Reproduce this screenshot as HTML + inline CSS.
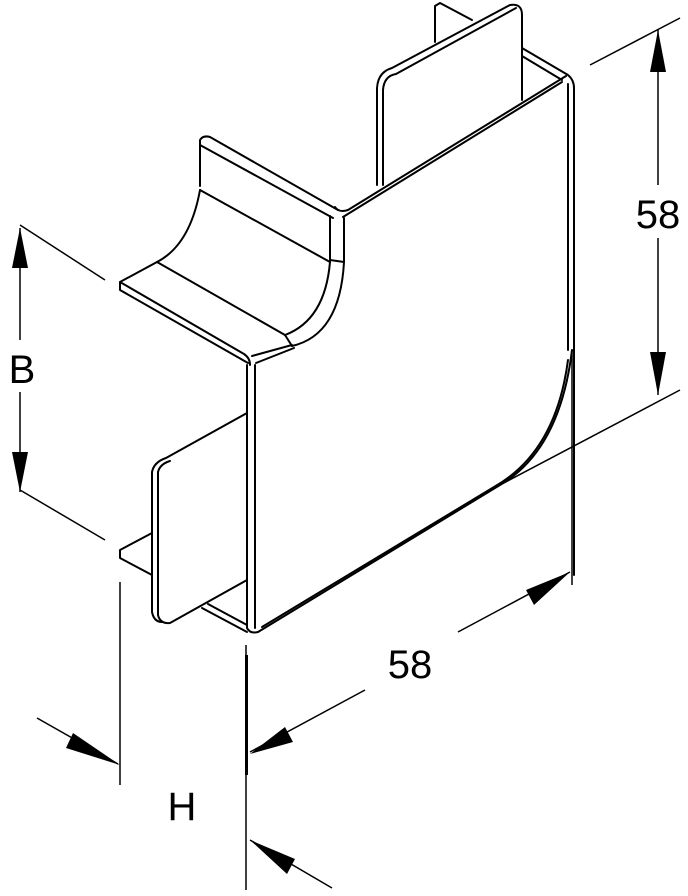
<!DOCTYPE html>
<html><head><meta charset="utf-8"><style>
html,body{margin:0;padding:0;background:#fff;}
svg{display:block;}
text{font-family:"Liberation Sans",sans-serif;fill:#000;}
</style></head><body>
<svg width="688" height="896" viewBox="0 0 688 896" xmlns="http://www.w3.org/2000/svg">
<g fill="none" stroke="#000" stroke-width="2" stroke-linejoin="round" stroke-linecap="round">
<!-- top tab back piece -->
<path d="M435,42 L435,6 L440,3 L472,20"/>
<!-- top tab -->
<path d="M377,185 L377,88 Q378,72 392,68 L510,5 Q522,3 522,15 L522,100"/>
<path d="M383,185 L383,90 Q384,76 396,74 L516,8"/>
<!-- back rim -->
<path d="M522,48 L568,75 Q574,80 574,88"/>
<path d="M522,56 L562,80"/>
<!-- top rim -->
<path d="M335,207 Q339,213 348,210 L566,76"/>
<path d="M343,217 L562,82"/>
<!-- right edge -->
<path d="M568,84 L568,350"/>
<path d="M574,88 L574,575"/>
<!-- big arc and bottom edge -->
<path d="M572,350 Q560,450 500,485 L258,632"/>
<path d="M568,360 Q556,452 494,487 L262,627"/>
<!-- left upper plate -->
<path d="M200,186 L200,140 Q203,135 210,137 L338,210"/>
<path d="M200,145 L333,218"/>
<path d="M200,190 L330,262"/>
<path d="M330,216 L330,262"/>
<path d="M344,218 L344,262"/>
<path d="M330,260 L344,262"/>
<path d="M200,190 Q190,245 157,262"/>
<path d="M330,262 Q325,320 285,335"/>
<path d="M344,262 Q340,335 292,346"/>
<path d="M285,335 L292,346"/>
<path d="M157,262 L285,335"/>
<path d="M157,262 L120,282 L120,290 L248,363"/>
<path d="M120,282 L244,354 Q250,358 250,365"/>
<path d="M252,356 L292,345"/>
<path d="M256,363 L294,348"/>
<!-- front face left edges -->
<path d="M247,365 L247,628 Q250,634 258,632"/>
<path d="M255,365 L255,628"/>
<!-- lower tab -->
<path d="M247,413 L166,458 Q154,462 152,472 L152,612 Q154,622 162,622"/>
<path d="M158,472 Q160,464 170,461"/>
<path d="M158,472 L158,615 Q160,624 170,623 L247,580"/>
<path d="M152,533 L120,550 L120,558 L152,575"/>
<path d="M202,608 L247,632"/>
<path d="M208,604 L247,625"/>
</g>
<!-- dimension lines -->
<g fill="none" stroke="#000" stroke-width="1.5">
<line x1="590" y1="65" x2="680" y2="18"/>
<line x1="500" y1="485" x2="680" y2="390"/>
<line x1="658" y1="30" x2="658" y2="185"/>
<line x1="658" y1="238" x2="658" y2="395"/>
<line x1="572" y1="350" x2="572" y2="585"/>
<line x1="458" y1="632" x2="570" y2="572"/>
<line x1="250" y1="752" x2="365" y2="690"/>
<line x1="20" y1="225" x2="105" y2="280"/>
<line x1="20" y1="490" x2="105" y2="540"/>
<line x1="20" y1="228" x2="20" y2="340"/>
<line x1="20" y1="392" x2="20" y2="492"/>
<line x1="120" y1="582" x2="120" y2="785"/>
<line x1="246" y1="645" x2="246" y2="890"/>
<line x1="37" y1="718" x2="118" y2="764"/>
<line x1="250" y1="840" x2="332" y2="888"/>
</g>
<g fill="#000">
<polygon points="658,30 650,72 666,72"/>
<polygon points="658,395 650,352 666,352"/>
<polygon points="20,228 12,268 28,268"/>
<polygon points="20,492 12,452 28,452"/>
<polygon points="570,572 526,590 534,605"/>
<polygon points="250,754 285,727 293,742"/>
<polygon points="120,765 73,733 66,748"/>
<polygon points="250,840 295,859 287,874"/>
</g>
<rect x="245" y="655" width="3" height="120" fill="#000"/>
<text x="658" y="228" font-size="40" text-anchor="middle">58</text>
<text x="410" y="678" font-size="40" text-anchor="middle">58</text>
<text x="22" y="383" font-size="40" text-anchor="middle">B</text>
<text x="182" y="820" font-size="40" text-anchor="middle">H</text>
</svg>
</body></html>
